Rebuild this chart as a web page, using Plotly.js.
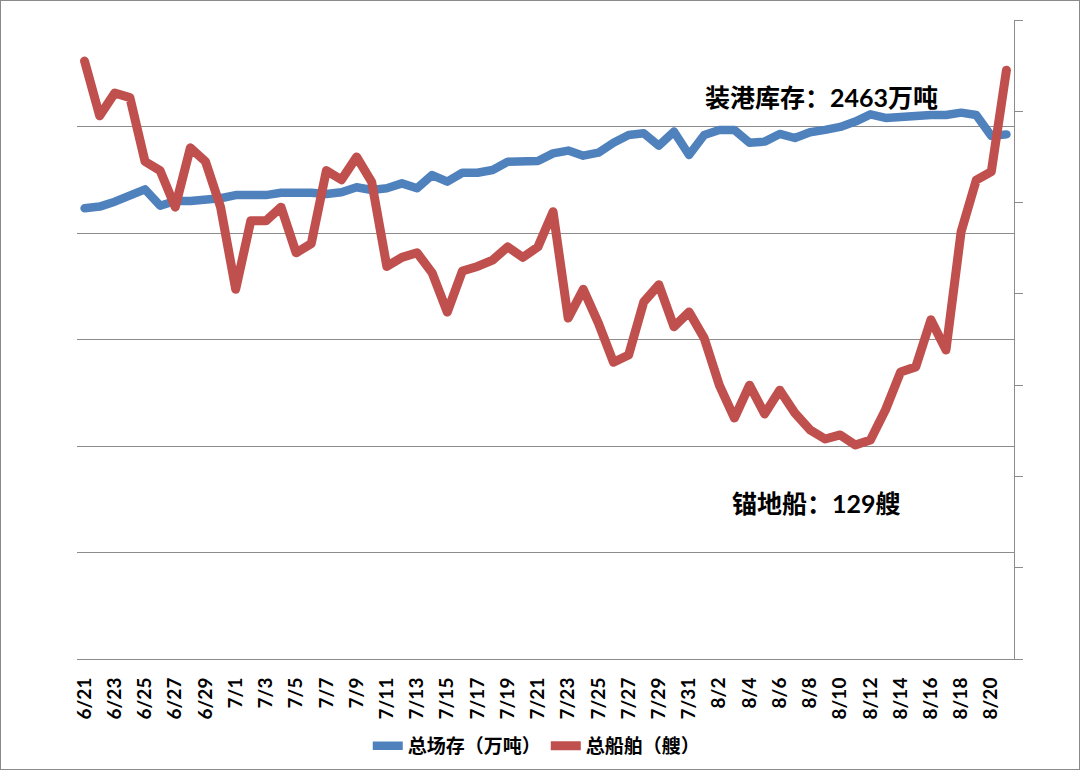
<!DOCTYPE html>
<html>
<head>
<meta charset="utf-8">
<script src="https://cdn.plot.ly/plotly-3.0.1.min.js"></script>
<style>
  html, body { margin: 0; padding: 0; background: #fff; }
  #chart { width: 1078px; height: 768px; border: 1px solid #8a8a8a; }
  .scatterlayer path.js-line { stroke-linejoin: round; stroke-linecap: round; }
</style>
</head>
<body>
<div id="chart"></div>
<script>
// Dates (6/21 - 8/21)
const dates = [
  "6/21","6/22","6/23","6/24","6/25","6/26","6/27","6/28","6/29","6/30",
  "7/1","7/2","7/3","7/4","7/5","7/6","7/7","7/8","7/9","7/10",
  "7/11","7/12","7/13","7/14","7/15","7/16","7/17","7/18","7/19","7/20",
  "7/21","7/22","7/23","7/24","7/25","7/26","7/27","7/28","7/29","7/30",
  "7/31","8/1","8/2","8/3","8/4","8/5","8/6","8/7","8/8","8/9",
  "8/10","8/11","8/12","8/13","8/14","8/15","8/16","8/17","8/18","8/19",
  "8/20","8/21"
];
// 总场存（万吨）
const stock = [
  2116,2124,2147,2174,2205,2128,2150,2150,2155,2163,
  2178,2174,2178,2189,2194,2189,2183,2191,2215,2202,
  2210,2233,2210,2272,2241,2283,2283,2296,2335,2335,
  2338,2374,2387,2363,2377,2424,2460,2468,2410,2476,
  2366,2460,2484,2484,2424,2429,2465,2446,2473,2484,
  2498,2523,2557,2540,2540,2549,2554,2554,2565,2554,
  2455,2463
];
// 总船舶（艘）
const ships = [
  131,119,124,123,109,107,99,112,109,99,
  81,96,96,99,89,91,107,105,110,104.5,
  86,88,89,84.6,76,85,86,87.4,90.3,88,
  90.3,98,74.7,81,73.6,65,66.6,78.2,82,72.8,
  76,70.3,60,52.8,60,53.7,58.9,53.9,50.2,48.2,
  49.1,46.9,48,54.6,62.9,64,74.3,67.7,93.6,104.9,
  106.8,129
];
const tickLabels = dates.filter((d, i) => i % 2 === 0);
const seriesNames = ["总场存（万吨）", "总船舶（艘）"];

const fontFam = "Lato, 'Noto Sans CJK SC', sans-serif";
const gridCol = "#8c8c8c";

const traces = [
  {
    x: dates, y: stock, name: seriesNames[0], type: "scatter", mode: "lines",
    line: { color: "#4F81BD", width: 8.5 }, yaxis: "y"
  },
  {
    x: dates, y: ships, name: seriesNames[1], type: "scatter", mode: "lines",
    line: { color: "#C0504D", width: 9 }, yaxis: "y2"
  }
];

const layout = {
  width: 1078, height: 768,
  margin: { l: 76, r: 65, t: 19, b: 110 },
  paper_bgcolor: "#fff", plot_bgcolor: "#fff",
  showlegend: true,
  font: { family: fontFam, color: "#000" },
  xaxis: {
    type: "category", range: [-0.5, dates.length - 0.5], automargin: false,
    tickmode: "array", tickvals: tickLabels, ticktext: tickLabels,
    tickangle: -90, ticklabelstandoff: 10,
    tickfont: { family: fontFam, size: 19, weight: "bold", color: "#000" },
    showgrid: false, showline: true, linecolor: gridCol, linewidth: 1,
    ticks: "", zeroline: false, fixedrange: true
  },
  yaxis: {
    range: [0, 3000], dtick: 500, tick0: 0, automargin: false,
    showticklabels: false, showgrid: true, gridcolor: gridCol, gridwidth: 1,
    zeroline: false, showline: false, ticks: ""
  },
  yaxis2: {
    range: [0, 140], dtick: 20, tick0: 0, overlaying: "y", side: "right",
    automargin: false,
    showticklabels: false, showgrid: false, zeroline: false,
    showline: true, linecolor: gridCol, linewidth: 1,
    ticks: "outside", ticklen: 8, tickcolor: gridCol, tickwidth: 1
  },
  legend: {
    orientation: "h", xref: "container", yref: "container",
    x: 0.497, xanchor: "center", y: 0.03, yanchor: "middle",
    font: { family: fontFam, size: 19, weight: "bold", color: "#000" },
    itemwidth: 30, bgcolor: "rgba(0,0,0,0)"
  },
  annotations: [
    {
      xref: "paper", yref: "paper", x: 0.795, y: 0.879,
      xanchor: "center", yanchor: "middle", showarrow: false,
      text: "装港库存：" + stock[stock.length - 1] + "万吨",
      font: { family: fontFam, size: 25, weight: "bold", color: "#000" }
    },
    {
      xref: "paper", yref: "paper", x: 0.789, y: 0.244,
      xanchor: "center", yanchor: "middle", showarrow: false,
      text: "锚地船：" + ships[ships.length - 1] + "艘",
      font: { family: fontFam, size: 25, weight: "bold", color: "#000" }
    }
  ]
};

Plotly.newPlot("chart", traces, layout, { displayModeBar: false, staticPlot: true });
</script>
</body>
</html>
